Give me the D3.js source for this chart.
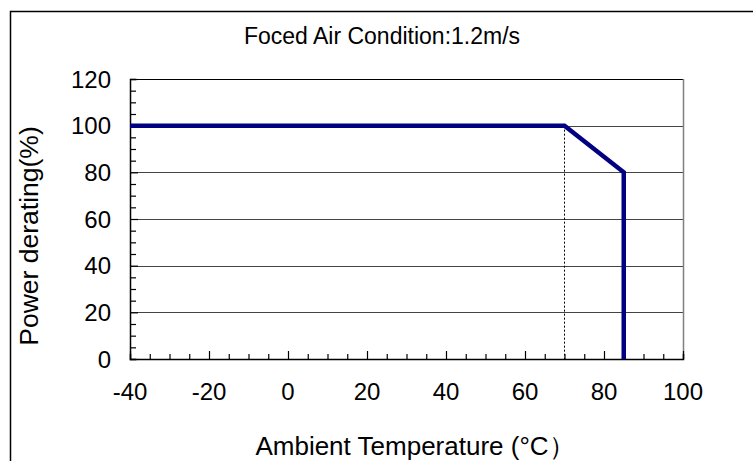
<!DOCTYPE html>
<html><head><meta charset="utf-8">
<script src="https://cdn.jsdelivr.net/npm/d3@7"></script>
<style>html,body{margin:0;padding:0;background:#fff;}svg{display:block;font-family:Arial,"Liberation Sans",sans-serif;}</style>
</head><body>
<svg id="chart" width="753" height="461"></svg>
<script>
const temperatures = [-40, 70, 85, 85];
const derating = [100, 100, 80, 0];
const xTicks = [-40, -20, 0, 20, 40, 60, 80, 100];
const yTicks = [0, 20, 40, 60, 80, 100, 120];
const kneeTemp = 70;
const titleText = "Foced Air Condition:1.2m/s";
const xLabel = "Ambient Temperature (°C）";
const yLabel = "Power derating(%)";

const svg = d3.select("#chart");
const L = 130, R = 683, T = 79, B = 359;
const x = d3.scaleLinear().domain([-40, 100]).range([L, R]);
const y = d3.scaleLinear().domain([0, 120]).range([B, T]);

// outer frame
svg.append("rect").attr("x", 10.5).attr("y", 11.5).attr("width", 800).attr("height", 600)
  .attr("fill", "none").attr("stroke", "#000").attr("stroke-width", 1.5);

// gridlines
svg.append("g").selectAll("line").data(yTicks.filter(d => d > 0 && d < 120)).join("line")
  .attr("x1", L).attr("x2", R).attr("y1", d => Math.round(y(d)) + 0.5).attr("y2", d => Math.round(y(d)) + 0.5)
  .attr("stroke", "#444").attr("stroke-width", 1);

// top & right border
svg.append("line").attr("x1", L).attr("x2", R).attr("y1", T + 0.5).attr("y2", T + 0.5).attr("stroke", "#000").attr("stroke-width", 1.2);
svg.append("line").attr("x1", R + 0.5).attr("x2", R + 0.5).attr("y1", T).attr("y2", B).attr("stroke", "#808080").attr("stroke-width", 1.5);

// axes with inward ticks
const minorX = d3.range(-40, 101, 5);
const minorY = d3.range(0, 121, 5);
const xAxis = d3.axisBottom(x).tickValues(minorX).tickSize(-5).tickFormat("");
const gx = svg.append("g").attr("transform", `translate(0,${B})`).call(xAxis);
gx.selectAll(".tick line").attr("y2", d => d % 20 === 0 ? -8 : -5);
const yAxis = d3.axisLeft(y).tickValues(minorY).tickSize(-6).tickFormat("");
const gy = svg.append("g").attr("transform", `translate(${L},0)`).call(yAxis);
gy.selectAll(".tick line").attr("x2", d => d % 20 === 0 ? 8 : 6);
svg.selectAll(".domain").attr("stroke", "#000").attr("stroke-width", 1.5);
svg.selectAll(".tick line").attr("stroke", "#000").attr("stroke-width", 1.2);

// tick labels
svg.append("g").selectAll("text").data(xTicks).join("text")
  .attr("x", d => x(d)).attr("y", 400).attr("text-anchor", "middle")
  .attr("font-size", 24).attr("fill", "#000").text(d => d);
svg.append("g").selectAll("text").data(yTicks).join("text")
  .attr("x", 111).attr("y", d => y(d) + 8.5).attr("text-anchor", "end")
  .attr("font-size", 24).attr("fill", "#000").text(d => d);

// dashed reference line
svg.append("line").attr("x1", x(kneeTemp)).attr("x2", x(kneeTemp)).attr("y1", y(100)).attr("y2", B)
  .attr("stroke", "#000").attr("stroke-width", 1).attr("stroke-dasharray", "2,2");

// derating curve
const line = d3.line().x((d, i) => x(temperatures[i])).y(d => y(d));
svg.append("path").datum(derating).attr("d", line)
  .attr("fill", "none").attr("stroke", "#000080").attr("stroke-width", 4.5).attr("stroke-linejoin", "miter");

// titles
svg.append("text").attr("x", 382).attr("y", 44).attr("text-anchor", "middle")
  .attr("font-size", 23).attr("fill", "#000").text(titleText);
svg.append("text").attr("x", 415).attr("y", 454.5).attr("text-anchor", "middle")
  .attr("font-size", 26).attr("fill", "#000").text(xLabel);
svg.append("text").attr("transform", "translate(38,236) rotate(-90)").attr("text-anchor", "middle")
  .attr("font-size", 26.5).attr("fill", "#000").text(yLabel);
</script>
</body></html>
